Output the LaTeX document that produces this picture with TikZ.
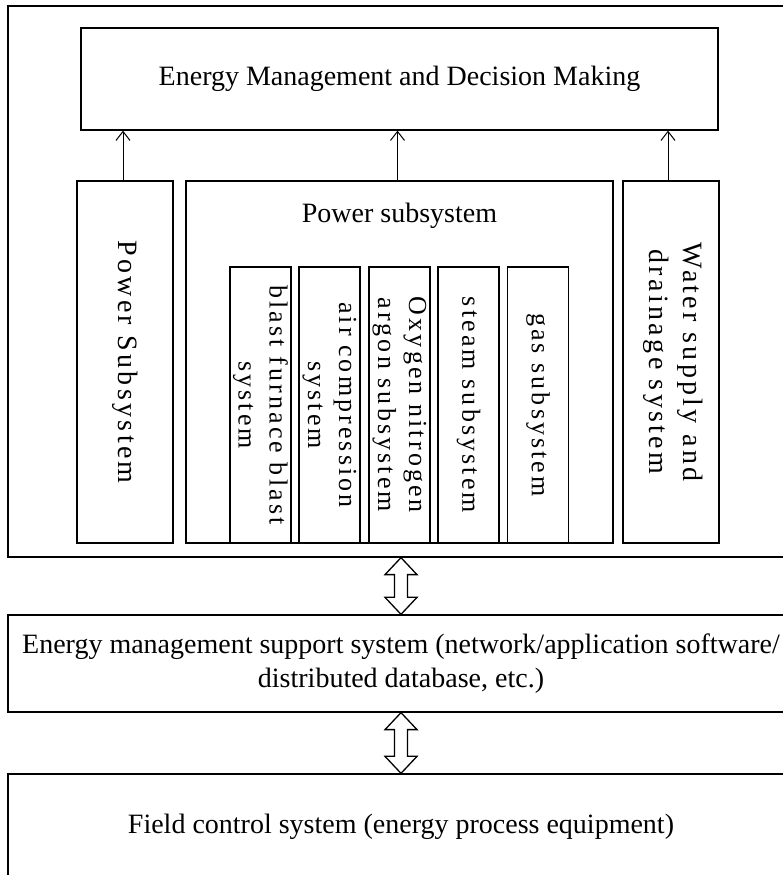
\documentclass[tikz,border=0pt]{standalone}
\usepackage{fontspec}
\setmainfont{Liberation Serif}
\newfontfamily\spacedfont[LetterSpace=12]{Liberation Serif}
\usetikzlibrary{arrows.meta,calc}

\begin{document}
\begin{tikzpicture}[x=1pt,y=1pt,>={Straight Barb[length=9pt,width=14pt]},
    line width=1.3pt,
    box node/.style={rectangle,draw,inner sep=0pt,
      font=\fontsize{28}{34}\selectfont},
    side node/.style={box node,minimum width=96,minimum height=362},
    sub node/.style={box node,minimum width=61,minimum height=276},
    vert text/.style={rotate=-90,align=center,inner sep=0pt,
      font=\spacedfont\fontsize{28}{34}\selectfont},
    sub text/.style={vert text,
      font=\spacedfont\fontsize{26}{31}\selectfont},
    block arrow/.style={draw,fill=white,line width=1.3pt}]

  \useasboundingbox (0,0) rectangle (783,875);
  \clip (0,0) rectangle (783,875);

  \node[box node,minimum width=786,minimum height=551] (OUT) at (401,593.5) {};
  \node[box node,minimum width=637,minimum height=102] (EM) at (399.5,796)
    {Energy Management and Decision Making};

  \node[side node] (PS) at (125,513) {};
  \node[vert text] (PSt) at (PS) {Power Subsystem};
  \node[box node,minimum width=427,minimum height=362] (PW) at (399.5,513) {};
  \node[box node,draw=none] (PWt) at (399.5,659) {Power subsystem};
  \node[side node] (WS) at (671,513) {};
  \node[vert text] (WSt) at (673,513) {Water supply and\\drainage system};

  % units inside the power subsystem
  \node[sub node] (BF) at (260.5,470) {};
  \node[sub text] (BFt) at (BF) {blast furnace blast\\system};
  \node[sub node] (AC) at (329.5,470) {};
  \node[sub text] (ACt) at (AC) {air compression\\system};
  \node[sub node] (ON) at (399.5,470) {};
  \node[sub text] (ONt) at (ON) {Oxygen nitrogen\\argon subsystem};
  \node[sub node] (ST) at (468.5,470) {};
  \node[sub text] (STt) at (ST) {steam subsystem};
  \node[sub node] (GS) at (538,470) {};
  \node[sub text] (GSt) at (GS) {gas subsystem};

  \node[box node,minimum width=786,minimum height=97,align=center] (SUP) at (401,211.5)
    {Energy management support system (network/application software/\\distributed database, etc.)};
  \node[box node,minimum width=786,minimum height=106] (FC) at (401,48)
    {Field control system (energy process equipment)};

  \draw[->,line width=1pt] ([xshift=-2pt]PS.north) -- ([xshift=-2pt]PS.north |- EM.south);
  \draw[->,line width=1pt] ([xshift=-2pt]PW.north) -- ([xshift=-2pt]PW.north |- EM.south);
  \draw[->,line width=1pt] ([xshift=-3pt]WS.north) -- ([xshift=-3pt]WS.north |- EM.south);

  \path[block arrow] (OUT.south) -- ++(16,-17) -- ++(-9.5,0)
    -- ($(SUP.north)+(6.5,17)$) -- ++(9.5,0) -- (SUP.north) -- ++(-16,17)
    -- ++(9.5,0) -- ($(OUT.south)+(-6.5,-17)$) -- ++(-9.5,0) -- cycle;
  \path[block arrow] (SUP.south) -- ++(16,-17) -- ++(-9.5,0)
    -- ($(FC.north)+(6.5,17)$) -- ++(9.5,0) -- (FC.north) -- ++(-16,17)
    -- ++(9.5,0) -- ($(SUP.south)+(-6.5,-17)$) -- ++(-9.5,0) -- cycle;
\end{tikzpicture}
\end{document}
